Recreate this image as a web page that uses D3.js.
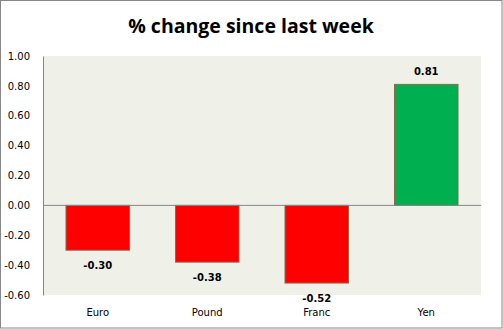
<!DOCTYPE html>
<html><head><meta charset="utf-8">
<script src="https://cdn.jsdelivr.net/npm/d3@7"></script>
<style>html,body{margin:0;padding:0;background:#fff;}svg{display:block;}</style>
</head><body>
<script>
const categories = ["Euro", "Pound", "Franc", "Yen"];
const values = [-0.30, -0.38, -0.52, 0.81];
const tickValues = [1.00, 0.80, 0.60, 0.40, 0.20, 0.00, -0.20, -0.40, -0.60];
const title = "% change since last week";

const W = 503, H = 329;
const m = {left: 43, right: 22, top: 56, bottom: 34};
const svg = d3.select("body").append("svg").attr("width", W).attr("height", H);

svg.append("rect").attr("x", 0.5).attr("y", 0.5).attr("width", W - 1.5).attr("height", H - 1.5)
  .attr("fill", "#fff").attr("stroke", "#878787").attr("stroke-width", 1);

const x = d3.scaleBand().domain(categories).range([m.left, W - m.right]).paddingInner(0.42).paddingOuter(0.21);
const y = d3.scaleLinear().domain([-0.6, 1.0]).range([H - m.bottom, m.top]);

svg.append("rect").attr("x", m.left).attr("y", m.top).attr("width", W - m.right - m.left).attr("height", H - m.bottom - m.top)
  .attr("fill", "#eff1e9");

svg.append("text").attr("x", 251).attr("y", 33).attr("text-anchor", "middle")
  .attr("font-family", "'Open Sans', sans-serif").attr("font-weight", "bold").attr("font-size", 19.5)
  .attr("fill", "#000").text(title);

const yAxis = d3.axisLeft(y).tickValues(tickValues).tickSize(0).tickPadding(13).tickFormat(d3.format(".2f"));
const ga = svg.append("g").attr("transform", `translate(${m.left},0)`).call(yAxis);
ga.select(".domain").attr("stroke", "#868686");
ga.selectAll("text").attr("font-family", "'DejaVu Sans', sans-serif").attr("font-size", 10).attr("fill", "#000")
  .text(d => d3.format(".2f")(d).replace("−", "-"));

svg.selectAll("rect.bar").data(values).enter().append("rect").attr("class", "bar")
  .attr("x", (d, i) => x(categories[i]))
  .attr("width", x.bandwidth())
  .attr("y", d => y(Math.max(0, d)))
  .attr("height", d => Math.abs(y(d) - y(0)))
  .attr("fill", d => d < 0 ? "#ff0000" : "#00b050")
  .attr("stroke", "#8c6a4a").attr("stroke-width", 1);

svg.append("line").attr("x1", m.left).attr("x2", W - m.right).attr("y1", y(0)).attr("y2", y(0))
  .attr("stroke", "#868686").attr("stroke-width", 1);

svg.selectAll("text.lbl").data(values).enter().append("text").attr("class", "lbl")
  .attr("x", (d, i) => x(categories[i]) + x.bandwidth() / 2)
  .attr("y", d => d < 0 ? y(d) + 19 : y(d) - 9)
  .attr("text-anchor", "middle")
  .attr("font-family", "'DejaVu Sans', sans-serif").attr("font-weight", "bold").attr("font-size", 10)
  .attr("fill", "#000").text(d => d3.format(".2f")(d).replace("−", "-"));

svg.selectAll("text.cat").data(categories).enter().append("text").attr("class", "cat")
  .attr("x", d => x(d) + x.bandwidth() / 2).attr("y", 316)
  .attr("text-anchor", "middle")
  .attr("font-family", "'DejaVu Sans', sans-serif").attr("font-size", 10)
  .attr("fill", "#000").text(d => d);
</script>
</body></html>
